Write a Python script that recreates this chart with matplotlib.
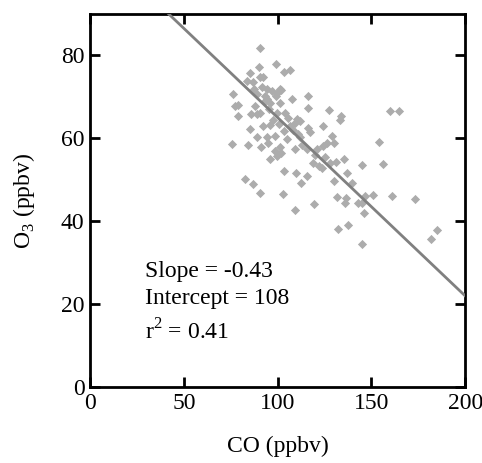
import matplotlib
matplotlib.use("Agg")
import matplotlib.pyplot as plt
import numpy as np

plt.rcParams["font.family"] = ["Liberation Serif", "DejaVu Serif"]
plt.rcParams["mathtext.fontset"] = "custom"
plt.rcParams["mathtext.rm"] = "Liberation Serif"

# CO / O3 pairs (ppbv)
co = [90.8, 99.2, 89.8, 106.7, 103.5, 85.3, 83.6, 92.1, 90.7, 86.8,
      91.6, 94.2, 101.0, 99.6, 101.9, 76.4, 88.9, 93.0, 99.2, 107.6,
      116.4, 77.3, 78.6, 88.0, 94.2, 96.0, 101.0, 116.4, 79.1, 85.9,
      88.9, 90.7, 99.6, 110.2, 112.0, 127.6, 133.7, 133.3, 85.3, 92.4,
      96.0, 103.5, 106.7, 109.3, 116.4, 117.3, 124.1, 88.9, 94.2, 98.7,
      104.9, 112.0, 128.9, 126.2, 124.4, 129.8, 75.9, 84.1, 91.2, 95.1,
      98.7, 101.3, 109.0, 115.6, 120.9, 153.8, 96.0, 99.6, 119.1, 121.8,
      123.6, 128.0, 131.2, 135.5, 144.9, 156.1, 103.5, 109.9, 115.6, 136.9,
      82.7, 87.1, 90.7, 102.6, 112.5, 130.1, 139.6, 109.0, 119.5, 131.6,
      136.5, 136.0, 143.1, 146.7, 151.1, 160.9, 173.0, 146.1, 144.9, 132.4,
      137.6, 145.2, 181.9, 185.2, 160.0, 164.8, 108.0, 113.0, 97.5, 104.0,
      93.5, 97.0, 105.5, 111.0, 95.5, 100.5, 87.5, 120.0, 125.5, 102.0]
o3 = [81.7, 77.9, 77.1, 76.4, 75.9, 75.7, 73.9, 74.8, 74.9, 73.5,
      72.3, 72.0, 71.9, 71.0, 71.7, 70.8, 70.8, 70.2, 70.2, 69.4,
      70.1, 67.7, 68.0, 67.8, 69.4, 68.6, 68.5, 67.4, 65.3, 65.8,
      65.8, 66.2, 66.2, 64.6, 64.2, 66.8, 65.3, 64.5, 62.2, 63.0,
      63.2, 61.8, 63.0, 63.6, 62.6, 61.5, 63.0, 60.3, 60.2, 60.6,
      59.9, 60.4, 60.6, 58.8, 58.2, 58.8, 58.6, 58.3, 58.0, 58.8,
      57.0, 57.8, 57.4, 57.4, 57.4, 59.1, 55.0, 55.8, 54.1, 53.3,
      52.9, 54.1, 54.4, 55.1, 53.6, 53.8, 52.0, 51.6, 50.8, 51.7,
      50.3, 48.9, 46.9, 46.5, 49.1, 49.7, 49.1, 42.7, 44.2, 45.9,
      45.7, 44.5, 44.5, 46.1, 46.3, 46.1, 45.3, 42.1, 44.3, 38.2,
      39.1, 34.4, 35.6, 38.0, 66.6, 66.5, 62.0, 58.5, 64.5, 66.0,
      69.0, 71.5, 65.0, 61.0, 67.0, 63.5, 71.8, 56.0, 55.5, 56.5]

SLOPE = -0.43
INTERCEPT = 108
R2 = 0.41

fig = plt.figure(figsize=(4.82, 4.63), dpi=100)
ax = fig.add_axes([0.187, 0.164, 0.778, 0.806])

ax.scatter(co, o3, marker="D", s=22, color="#acacac", linewidths=0, zorder=2)

xl = np.array([0, 200])
ax.plot(xl, SLOPE * xl + INTERCEPT, color="#808080", lw=2, zorder=3)

ax.set_xlim(0, 200)
ax.set_ylim(0, 90)
ax.set_xticks([0, 50, 100, 150, 200])
ax.set_yticks([0, 20, 40, 60, 80])
ax.tick_params(direction="in", length=7, width=2, labelsize=17,
               top=True, right=True, pad=4)
for s in ax.spines.values():
    s.set_linewidth(2)

ax.set_xlabel("CO (ppbv)", fontsize=17, labelpad=16)
ax.set_ylabel("O$_3$ (ppbv)", fontsize=17, labelpad=17)

# fit summary, one line per text
ax.text(29.3, 27.9, f"Slope = {SLOPE}", fontsize=17, va="center")
ax.text(29.3, 21.4, f"Intercept = {INTERCEPT}", fontsize=17, va="center")
ax.text(29.3, 13.4, f"r$^2$ = {R2}", fontsize=17, va="center")

fig.savefig("out.png", dpi=100)
